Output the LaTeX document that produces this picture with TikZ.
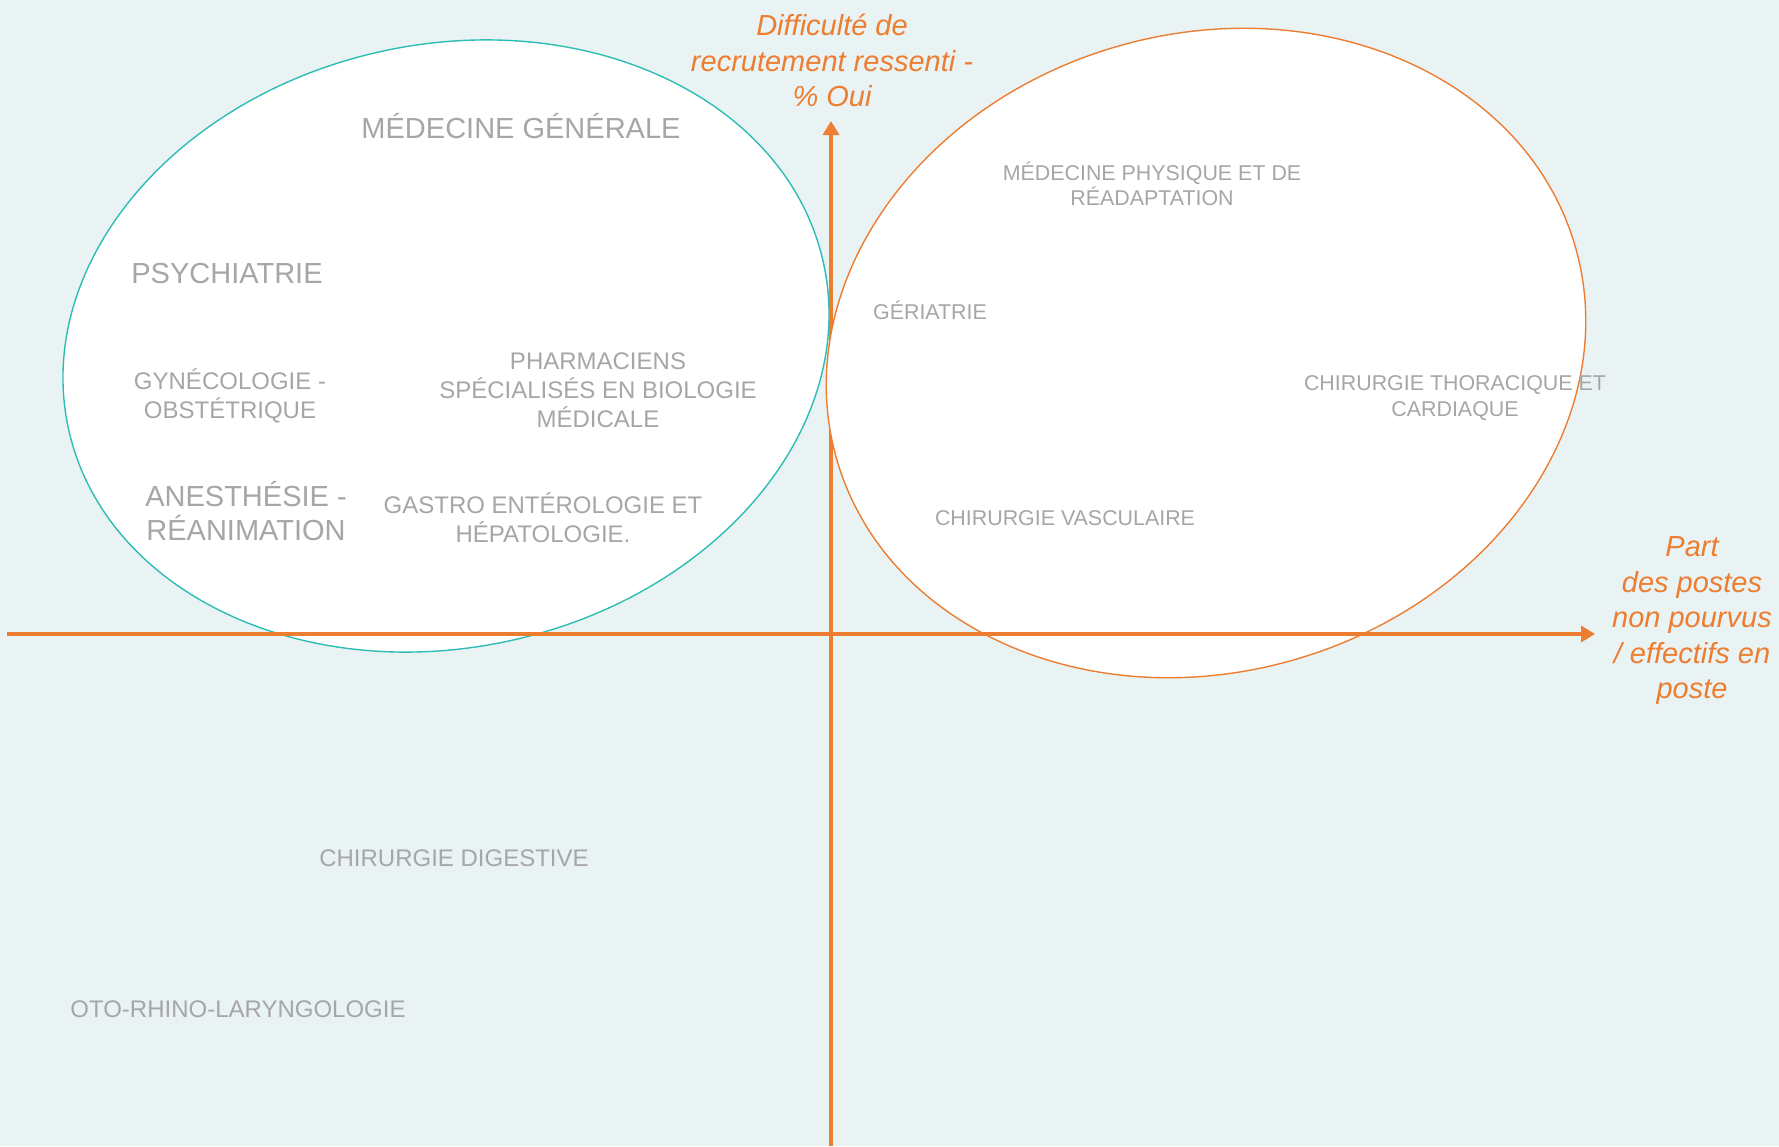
\documentclass[tikz,border=0pt]{standalone}
\usepackage{fontspec}
\setmainfont{Liberation Sans}
\usetikzlibrary{arrows.meta}
\definecolor{bgc}{HTML}{EAF3F3}
\definecolor{orng}{HTML}{ED7D31}
\definecolor{teal2}{HTML}{2EBDB5}
\definecolor{grayt}{HTML}{A6A6A6}
\tikzset{
  big/.style={text=grayt, align=center, font=\fontsize{29}{34}\selectfont, inner sep=0pt},
  mid/.style={text=grayt, align=center, font=\fontsize{24}{29}\selectfont, inner sep=0pt},
  small/.style={text=grayt, align=center, font=\fontsize{21.4}{25.5}\selectfont, inner sep=0pt},
  axlabel/.style={text=orng, align=center, font=\fontsize{29}{35.5}\selectfont\itshape, inner sep=0pt},
  axis/.style={draw=orng, line width=3.5pt, -{Triangle[width=16pt,length=14pt]}},
  blob/.style={fill=white, line width=1.4pt}
}
\begin{document}
\begin{tikzpicture}[x=1pt,y=1pt]
\fill[bgc] (0,0) rectangle (1779,-1146);
\useasboundingbox (0,0) rectangle (1779,-1146);
\coordinate (xs) at (7,-634);
\coordinate (xe) at (1595,-634);
\coordinate (ys) at (831,-1146);
\coordinate (ye) at (831,-121);
% left ellipse
\draw[blob, draw=teal2, rotate around={12.4:(446,-346)}] (446,-346) ellipse [x radius=386.5, y radius=301.6];
% vertical axis
\draw[axis] (ys) -- (ye);
% right ellipse
\draw[blob, draw=orng, rotate around={16.1:(1206,-353)}] (1206,-353) ellipse [x radius=384.3, y radius=319.2];
% horizontal axis
\draw[axis] (xs) -- (xe);
% labels
\node[axlabel] (ylab) at (832,-60.5) {Difficulté de\\recrutement ressenti -\\\% Oui};
\node[axlabel] (xlab) at (1692,-621) {Part\\des postes\\non pourvus\\/ effectifs en\\poste};
\node[big] (mg) at (521,-126) {MÉDECINE GÉNÉRALE};
\node[big] (psy) at (227,-274) {PSYCHIATRIE};
\node[mid] (gyn) at (230,-395.5) {GYNÉCOLOGIE -\\OBSTÉTRIQUE};
\node[mid] (pharm) at (598,-390) {PHARMACIENS\\SPÉCIALISÉS EN BIOLOGIE\\MÉDICALE};
\node[big] (anes) at (246,-511) {ANESTHÉSIE -\\RÉANIMATION};
\node[mid] (gastro) at (543,-517.5) {GASTRO ENTÉROLOGIE ET\\HÉPATOLOGIE.};
\node[small] (mpr) at (1152,-184) {MÉDECINE PHYSIQUE ET DE\\RÉADAPTATION};
\node[small] (ger) at (930,-310) {GÉRIATRIE};
\node[small] (ctc) at (1455,-398) {CHIRURGIE THORACIQUE ET\\CARDIAQUE};
\node[small] (cv) at (1065,-518.5) {CHIRURGIE VASCULAIRE};
\node[mid] (cd) at (454,-858) {CHIRURGIE DIGESTIVE};
\node[mid] (orl) at (238,-1009) {OTO-RHINO-LARYNGOLOGIE};
\end{tikzpicture}
\end{document}
